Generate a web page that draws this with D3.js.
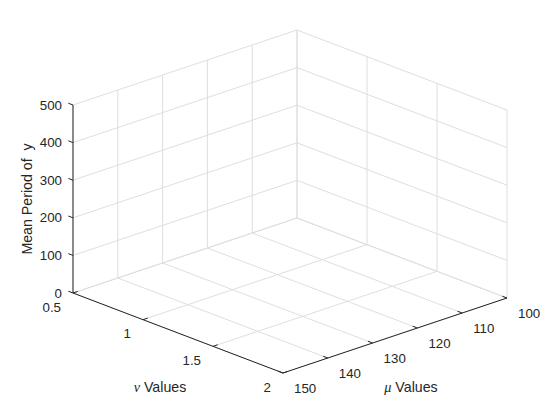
<!DOCTYPE html>
<html><head><meta charset="utf-8">
<script src="https://cdn.jsdelivr.net/npm/d3@7"></script>
<style>body{margin:0;background:#fff}svg{display:block}</style>
</head><body>
<script>
const nuTicks = [0.5, 1, 1.5, 2];
const muTicks = [100, 110, 120, 130, 140, 150];
const zTicks = [0, 100, 200, 300, 400, 500];
const nuLabels = ["0.5", "1", "1.5", "2"];
const muLabels = ["100", "110", "120", "130", "140", "150"];
const zLabels = ["0", "100", "200", "300", "400", "500"];
const zTitle = "Mean Period of  y";

const W = 560, H = 420;
const svg = d3.select("body").append("svg").attr("width", W).attr("height", H);

// fractional scales
const sNu = d3.scaleLinear().domain([0.5, 2]).range([0, 1]);
const sMu = d3.scaleLinear().domain([150, 100]).range([0, 1]);
const sZ = d3.scaleLinear().domain([0, 500]).range([0, 1]);

const O = [73, 293], A = [210, 80], B = [224, -75], C = [0, -188];
function P(nu, mu, z) {
  const a = sNu(nu), b = sMu(mu), c = sZ(z);
  return [O[0] + a*A[0] + b*B[0] + c*C[0], O[1] + a*A[1] + b*B[1] + c*C[1]];
}
const gridColor = "#dedede", axisColor = "#262626";
function line(p, q, color, w) {
  svg.append("line").attr("x1", p[0]).attr("y1", p[1]).attr("x2", q[0]).attr("y2", q[1])
    .attr("stroke", color).attr("stroke-width", w || 1);
}
const nuMin = 0.5, nuMax = 2, muMin = 100, muMax = 150, zMin = 0, zMax = 500;

// Grid: left wall (nu = 0.5)
muTicks.forEach(m => line(P(nuMin, m, zMin), P(nuMin, m, zMax), gridColor));
zTicks.forEach(z => line(P(nuMin, muMax, z), P(nuMin, muMin, z), gridColor));
// right wall (mu = 100)
nuTicks.forEach(n => line(P(n, muMin, zMin), P(n, muMin, zMax), gridColor));
zTicks.forEach(z => line(P(nuMin, muMin, z), P(nuMax, muMin, z), gridColor));
// floor
nuTicks.forEach(n => line(P(n, muMax, zMin), P(n, muMin, zMin), gridColor));
muTicks.forEach(m => line(P(nuMin, m, zMin), P(nuMax, m, zMin), gridColor));

// Axis lines
line(P(nuMin, muMax, zMin), P(nuMin, muMax, zMax), axisColor);
line(P(nuMin, muMax, zMin), P(nuMax, muMax, zMin), axisColor);
line(P(nuMax, muMax, zMin), P(nuMax, muMin, zMin), axisColor);

const tl = 5;
const An = Math.hypot(A[0], A[1]), Bn = Math.hypot(B[0], B[1]);
const ua = [A[0]/An, A[1]/An], ub = [B[0]/Bn, B[1]/Bn];
const font = "Liberation Sans, Arial, sans-serif";
const fs = 13.3, tfs = 14.2;

// z ticks
zTicks.forEach((z, i) => {
  const p = P(nuMin, muMax, z);
  line(p, [p[0] - ua[0]*tl, p[1] - ua[1]*tl], axisColor);
  svg.append("text").attr("x", p[0] - 11).attr("y", p[1]).attr("dy", "0.35em")
    .attr("text-anchor", "end").attr("font-family", font).attr("font-size", fs)
    .attr("fill", axisColor).text(zLabels[i]);
});
// nu ticks
nuTicks.forEach((n, i) => {
  const p = P(n, muMax, zMin);
  line(p, [p[0] + ub[0]*tl, p[1] + ub[1]*tl], axisColor);
  svg.append("text").attr("x", p[0] - 12).attr("y", p[1] + 14).attr("dy", "0.35em")
    .attr("text-anchor", "end").attr("font-family", font).attr("font-size", fs)
    .attr("fill", axisColor).text(nuLabels[i]);
});
// mu ticks
muTicks.forEach((m, i) => {
  const p = P(nuMax, m, zMin);
  line(p, [p[0] - ua[0]*tl, p[1] - ua[1]*tl], axisColor);
  svg.append("text").attr("x", p[0] + 11).attr("y", p[1] + 15).attr("dy", "0.35em")
    .attr("text-anchor", "start").attr("font-family", font).attr("font-size", fs)
    .attr("fill", axisColor).text(muLabels[i]);
});

// axis titles
const zc = P(nuMin, muMax, 250);
svg.append("text").attr("transform", `translate(${zc[0] - 46},${zc[1]}) rotate(-90)`)
  .attr("text-anchor", "middle").attr("dy", "0.35em").attr("font-family", font)
  .attr("font-size", tfs).attr("fill", axisColor).style("white-space", "pre")
  .attr("xml:space", "preserve").text(zTitle);

function greekTitle(x, y, sym) {
  const t = svg.append("text").attr("x", x).attr("y", y).attr("dy", "0.35em")
    .attr("text-anchor", "middle").attr("font-family", font).attr("font-size", tfs)
    .attr("fill", axisColor);
  t.append("tspan").attr("font-family", "Liberation Serif, Times New Roman, serif")
    .attr("font-style", "italic").text(sym);
  t.append("tspan").text(" Values");
}
greekTitle(160, 387, "\u03BD");
greekTitle(411, 387, "\u03BC");
</script>
</body></html>
